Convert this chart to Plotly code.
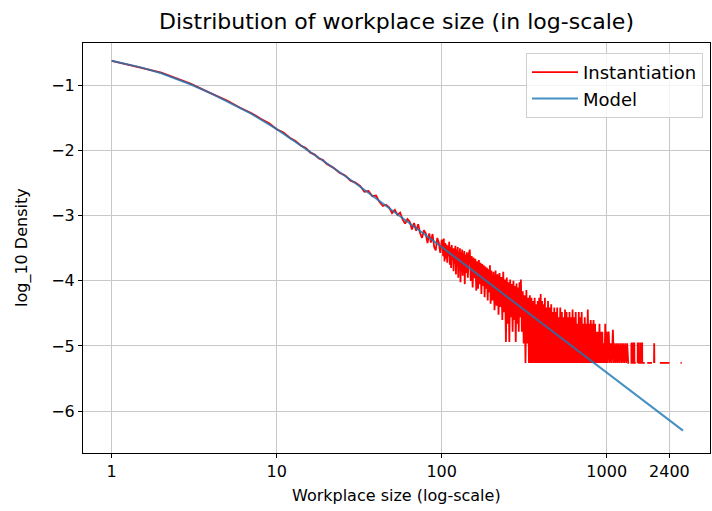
import plotly.graph_objects as go

# ---------------- data ----------------
x_tick_vals = [1, 10, 100, 1000, 2400]
x_tick_text = ["1", "10", "100", "1000", "2400"]
y_tick_vals = [-1, -2, -3, -4, -5, -6]
y_tick_text = ["\u22121", "\u22122", "\u22123", "\u22124", "\u22125", "\u22126"]

# Model curve (log10 density vs workplace size)
model_size = [1, 1.5, 2, 3, 4, 5, 7, 10, 15, 20, 30, 50, 70, 100, 150, 200,
              300, 500, 700, 1000, 1500, 2000, 2900]
model_logd = [-0.62, -0.72, -0.81, -0.98, -1.12, -1.24, -1.43, -1.67, -1.97,
              -2.19, -2.50, -2.91, -3.19, -3.48, -3.82, -4.06, -4.41, -4.83,
              -5.11, -5.40, -5.74, -5.98, -6.30]

# Instantiation (empirical) -- small sizes
inst_size_a = [1, 2, 3, 4, 5, 6, 7, 8, 9, 10, 11, 12, 13, 14, 15, 16, 17, 18,
               19, 20, 22, 24, 26, 28, 30]
inst_logd_a = [-0.62, -0.80, -0.97, -1.12, -1.23, -1.34, -1.42, -1.51, -1.58,
               -1.67, -1.72, -1.80, -1.85, -1.92, -1.96, -2.03, -2.06, -2.12,
               -2.14, -2.20, -2.26, -2.34, -2.38, -2.46, -2.49]

# sizes 32..100
inst_size_b = [32, 34, 36, 38, 40, 42, 44, 46, 48, 50, 52, 54, 56, 58, 60, 62,
               64, 66, 68, 70, 72, 74, 76, 78, 80, 82, 84, 86, 88, 90, 92, 94,
               96, 98, 100]
inst_logd_b = [-2.54, -2.63, -2.62, -2.70, -2.69, -2.79, -2.85, -2.83, -2.87,
               -2.96, -2.91, -2.99, -2.95, -3.06, -3.12, -3.05, -3.09, -3.21,
               -3.11, -3.23, -3.13, -3.27, -3.34, -3.22, -3.27, -3.42, -3.27,
               -3.41, -3.28, -3.48, -3.53, -3.34, -3.41, -3.57, -3.38]

# sizes 101..140
inst_size_c = [101, 102, 103, 104, 105, 106, 107, 108, 109, 110, 111, 112, 113,
               114, 115, 116, 117, 118, 119, 120, 121, 122, 123, 124, 125, 126,
               127, 128, 129, 130, 131, 132, 133, 134, 135, 136, 137, 138, 139,
               140]
inst_logd_c = [-3.38, -3.62, -3.35, -3.70, -3.42, -3.66, -3.44, -3.72, -3.46,
               -3.62, -3.40, -3.75, -3.48, -3.80, -3.45, -3.68, -3.50, -3.85,
               -3.50, -3.74, -3.46, -3.90, -3.52, -3.78, -3.48, -3.95, -3.55,
               -3.82, -3.50, -4.02, -3.56, -3.86, -3.52, -3.92, -3.58, -3.80,
               -3.54, -4.05, -3.60, -3.88]

# sizes 142..200
inst_size_d = [142, 144, 146, 148, 150, 152, 154, 156, 158, 160, 162, 164, 166,
               168, 170, 172, 174, 176, 178, 180, 182, 184, 186, 188, 190, 192,
               194, 196, 198, 200]
inst_logd_d = [-3.56, -3.95, -3.58, -3.52, -4.00, -3.62, -4.10, -3.64, -3.96,
               -3.66, -4.15, -3.70, -4.12, -3.68, -4.05, -3.72, -4.20, -3.74,
               -4.08, -3.76, -4.25, -3.78, -4.12, -3.80, -4.30, -3.82, -4.18,
               -3.76, -4.35, -3.84]

# sizes 203..302
inst_size_e = [203, 206, 209, 212, 215, 218, 221, 224, 227, 230, 233, 236, 239,
               242, 245, 248, 251, 254, 257, 260, 263, 266, 269, 272, 275, 278,
               281, 284, 287, 290, 293, 296, 299, 302]
inst_logd_e = [-4.30, -3.86, -4.45, -3.84, -4.38, -3.90, -4.52, -3.88, -4.40,
               -3.94, -4.60, -3.86, -4.48, -3.98, -4.94, -3.95, -4.66, -4.02,
               -4.94, -3.98, -4.56, -4.05, -4.78, -4.00, -4.60, -4.08, -4.94,
               -4.04, -4.66, -4.10, -4.78, -4.02, -4.56, -3.98]

# sizes 306..402
inst_size_f = [306, 310, 314, 318, 322, 326, 330, 334, 338, 342, 346, 350, 354,
               358, 362, 366, 370, 374, 378, 382, 386, 390, 394, 398, 402]
inst_logd_f = [-4.78, -4.16, -4.96, -4.22, -5.26, -4.14, -4.96, -4.26, -5.26,
               -4.22, -5.26, -4.26, -5.26, -4.31, -5.26, -4.26, -5.26, -4.36,
               -5.26, -4.31, -5.26, -4.26, -5.26, -4.20, -5.26]

# sizes 406..1000
inst_size_g = [406, 410, 414, 418, 422, 426, 431, 436, 441, 446, 451, 456, 461,
               466, 471, 476, 481, 486, 491, 496, 501, 506, 511, 517, 523, 529,
               535, 541, 547, 553, 559, 565, 571, 577, 583, 589, 595, 601, 607,
               614, 621, 628, 635, 642, 649, 656, 663, 670, 677, 684, 691, 698,
               705, 712, 720, 728, 736, 744, 752, 760, 768, 776, 784, 792, 800,
               808, 816, 824, 832, 841, 850, 859, 868, 877, 886, 895, 904, 913,
               922, 931, 940, 950, 960, 970, 980, 990, 1000]
inst_logd_g = [-4.31, -5.26, -4.36, -5.26, -4.26, -5.26, -4.41, -5.26, -4.31,
               -5.26, -4.41, -5.26, -4.36, -5.26, -4.48, -5.26, -4.41, -5.26,
               -4.48, -5.26, -4.41, -5.26, -4.56, -5.26, -4.41, -5.26, -4.48,
               -5.26, -4.56, -5.26, -4.44, -5.26, -4.48, -5.26, -4.56, -5.26,
               -4.48, -5.26, -4.56, -5.26, -4.44, -5.26, -4.56, -5.26, -4.48,
               -5.26, -4.66, -5.26, -4.48, -5.26, -4.56, -5.26, -4.48, -5.26,
               -4.66, -5.26, -4.56, -5.26, -4.66, -5.26, -4.44, -5.26, -4.66,
               -5.26, -4.60, -5.26, -4.66, -5.26, -4.60, -5.26, -4.66, -5.26,
               -4.78, -5.26, -4.78, -5.26, -4.66, -5.26, -4.78, -5.26, -4.78,
               -5.26, -4.96, -5.26, -4.66, -5.26, -4.78]

# sizes 1013..2850 (None = no workplace of that size -> gap in the line)
inst_size_h = [1013, 1028, 1043, 1058, 1073, 1090, 1105, 1120, 1136, 1152,
               1168, 1185, 1202, 1220, 1238, 1256, 1274, 1293, 1312, 1331,
               1350, 1365, 1380, 1400, 1410, 1412, 1440, 1442, 1470, 1472,
               1500, 1520, 1540, 1542, 1560, 1562, 1600, 1602, 1640, 1642,
               1700, 1730, 1760, 1880, 1910, 1935, 1940, 1945, 2000, 2100,
               2400, 2600, 2800, 2850]
inst_logd_h = [-5.26, -4.78, -5.26, -4.96, -5.26, -4.75, -5.26, -4.96, -5.26,
               -4.96, -5.26, -4.96, -5.26, -4.96, -5.26, -4.96, -5.26, -4.96,
               -5.26, -4.96, -5.26, -5.26, None, -4.96, -4.96, -5.26, -5.26,
               -4.96, -4.96, -5.26, -5.26, None, -5.26, -4.96, -4.96, -5.26,
               -5.26, -4.96, -4.96, -5.26, -5.26, None, -5.26, -5.26, None,
               -5.26, -4.96, -5.26, None, -5.26, -5.26, None, -5.26, -5.26]

inst_size = (inst_size_a + inst_size_b + inst_size_c + inst_size_d +
             inst_size_e + inst_size_f + inst_size_g + inst_size_h)
inst_logd = (inst_logd_a + inst_logd_b + inst_logd_c + inst_logd_d +
             inst_logd_e + inst_logd_f + inst_logd_g + inst_logd_h)

# ---------------- figure ----------------
FONT = "DejaVu Sans"
W, H = 712, 511
L, R, T, B = 83, 2, 43, 58

fig = go.Figure()
fig.add_trace(go.Scatter(
    x=inst_size, y=inst_logd, mode="lines", name="Instantiation",
    line=dict(color="#ff0000", width=1.8, simplify=False), connectgaps=False,
))
fig.add_trace(go.Scatter(
    x=model_size, y=model_logd, mode="lines", name="Model",
    line=dict(color="rgba(31,119,180,0.82)", width=2),
))

axis_common = dict(
    showline=True, mirror=True, linecolor="black", linewidth=1,
    ticks="outside", ticklen=4, tickwidth=1, tickcolor="black",
    showgrid=True, gridcolor="#c8c8c8", gridwidth=1, zeroline=False,
    tickfont=dict(family=FONT, size=16, color="black"),
)

fig.update_layout(
    width=W, height=H, autosize=False,
    margin=dict(l=L, r=R, t=T, b=B, pad=0),
    paper_bgcolor="white", plot_bgcolor="white",
    font=dict(family=FONT, size=16, color="black"),
    showlegend=True,
    legend=dict(
        x=0.9888, y=0.9756, xanchor="right", yanchor="top",
        bgcolor="rgba(255,255,255,0.8)", bordercolor="#d0d0d0", borderwidth=1,
        font=dict(family=FONT, size=18, color="black"),
        itemwidth=46,
    ),
    xaxis=dict(
        type="log", range=[-0.174, 3.626],
        tickmode="array", tickvals=x_tick_vals, ticktext=x_tick_text,
        **axis_common,
    ),
    yaxis=dict(
        range=[-6.644, -0.346],
        tickmode="array", tickvals=y_tick_vals, ticktext=y_tick_text,
        **axis_common,
    ),
    annotations=[
        dict(text="Distribution of workplace size (in log-scale)",
             xref="paper", yref="paper", x=0.5, y=1 + 21 / 410,
             xanchor="center", yanchor="middle", showarrow=False,
             font=dict(family=FONT, size=22, color="black")),
        dict(text="Workplace size (log-scale)",
             xref="paper", yref="paper", x=0.5, y=-42 / 410,
             xanchor="center", yanchor="middle", showarrow=False,
             font=dict(family=FONT, size=16, color="black")),
        dict(text="log_10 Density",
             xref="paper", yref="paper", x=-61 / 627, y=0.5,
             xanchor="center", yanchor="middle", showarrow=False, textangle=-90,
             font=dict(family=FONT, size=16, color="black")),
    ],
)

fig.write_html("out.html")
